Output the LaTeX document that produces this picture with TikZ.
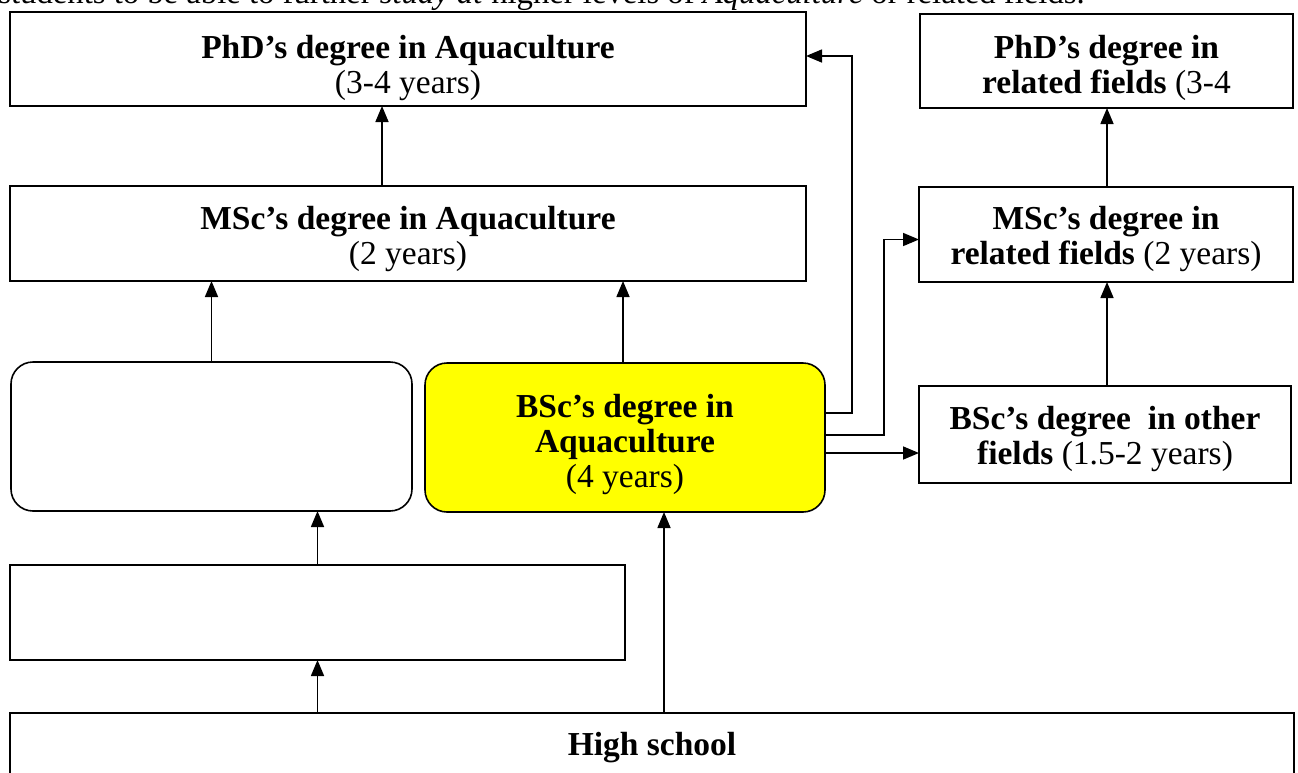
\documentclass[tikz,border=0pt]{standalone}
\usepackage{fontspec}
\setmainfont{Liberation Serif}
\usetikzlibrary{arrows.meta}
\begin{document}
\begin{tikzpicture}[x=1pt,y=-1pt,
  box/.style={draw=black, line width=1.6pt, inner sep=0pt, outer sep=0pt, anchor=north west},
  rbox/.style={box, rounded corners=22pt},
  txt/.style={font=\fontsize{33.5}{35}\selectfont, align=center, inner sep=0pt, anchor=north},
  conn/.style={line width=1.6pt, -{Triangle[length=16pt,width=13pt]}},
]
\useasboundingbox (0,0) rectangle (1298,772);
\fill[white] (0,0) rectangle (1298,772);

% cut-off line of text above the diagram
\node[font=\fontsize{32.7}{35}\selectfont, inner sep=0pt, anchor=base east] (intro) at (1085,3)
  {students to be able to further \textit{study at} higher levels of \textit{Aquaculture} or related fields.};

% boxes
\node[box, minimum width=796pt, minimum height=94pt] (phdA) at (10,12) {};
\node[box, minimum width=373pt, minimum height=94pt] (phdR) at (920,14) {};
\node[box, minimum width=796pt, minimum height=95pt] (mscA) at (10,186) {};
\node[box, minimum width=374pt, minimum height=95pt] (mscR) at (919,187) {};
\node[rbox, minimum width=401pt, minimum height=149pt] (lrnd) at (11,362) {};
\node[rbox, fill={rgb,255:red,255;green,255;blue,0}, minimum width=400pt, minimum height=149pt] (bscA) at (425,363) {};
\node[box, minimum width=372pt, minimum height=97pt] (bscO) at (919,386) {};
\node[box, minimum width=615pt, minimum height=95pt] (er) at (10,565) {};
\node[box, minimum width=1284pt, minimum height=100pt] (hs) at (10,713) {};

% texts
\node[txt] (phdAt) at ([yshift=-23pt]phdA.north) {\textbf{PhD’s degree in Aquaculture}\\(3-4 years)};
\node[txt] (phdRt) at ([yshift=-21pt]phdR.north) {\textbf{PhD’s degree in}\\\textbf{related fields} (3-4};
\node[txt] (mscAt) at ([yshift=-20pt]mscA.north) {\textbf{MSc’s degree in Aquaculture}\\(2 years)};
\node[txt] (mscRt) at ([yshift=-19pt]mscR.north) {\textbf{MSc’s degree in}\\\textbf{related fields} (2 years)};
\begin{scope}
  \clip (425,363) rectangle (825,494);
  \node[txt] (bscAt) at ([yshift=-31pt]bscA.north) {\textbf{BSc’s degree in}\\\textbf{Aquaculture}\\(4 years)};
\end{scope}
\node[txt] (bscOt) at ([yshift=-20pt]bscO.north) {\textbf{BSc’s degree\ \ in other}\\\textbf{fields} (1.5-2 years)};
\node[font=\fontsize{33.5}{35}\selectfont\bfseries, inner sep=0pt, anchor=base] (hst) at (652,755) {High school};

% channel coordinates
\coordinate (ch1) at (852,0);
\coordinate (ch2) at (884,0);

% connectors
\draw[conn] ([xshift=-26pt]mscA.north) -- ([xshift=-26pt]phdA.south);
\draw[conn] (lrnd.north) -- (lrnd.north |- mscA.south);
\draw[conn] ([xshift=-2pt]bscA.north) -- ([xshift=-2pt]bscA.north |- mscA.south);
\draw[conn] ([yshift=24.5pt]bscA.east) -| ([yshift=3pt]ch1 |- phdA.east) -- ([yshift=3pt]phdA.east);
\draw[conn] ([yshift=2.5pt]bscA.east) -| ([yshift=-5pt]ch2 |- mscR.west) -- ([yshift=-5pt]mscR.west);
\draw[conn] ([yshift=-15.5pt]bscA.east) -- ([yshift=-15.5pt]bscA.east -| bscO.west);
\draw[conn] ([xshift=2pt]bscO.north) -- ([xshift=2pt]bscO.north |- mscR.south);
\draw[conn] ([xshift=1pt]mscR.north) -- ([xshift=1pt]mscR.north |- phdR.south);
\draw[conn] (er.north) -- (er.north |- lrnd.south);
\draw[conn] (er.south |- hs.north) -- (er.south);
\draw[conn] ([xshift=39pt]bscA.south |- hs.north) -- ([xshift=39pt]bscA.south);
\end{tikzpicture}
\end{document}
